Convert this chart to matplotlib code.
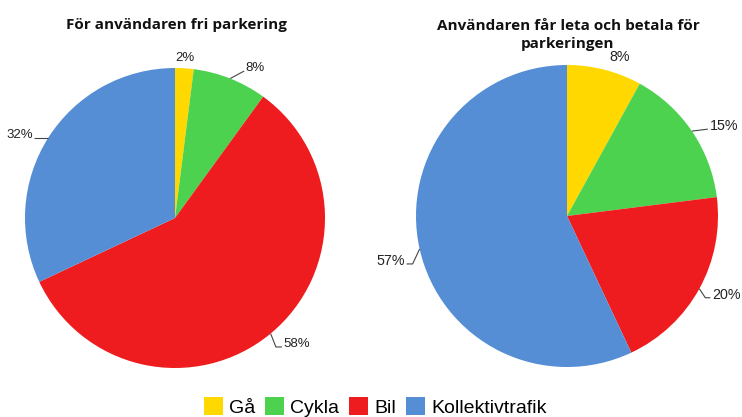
import numpy as np
import matplotlib
matplotlib.use("Agg")
import matplotlib.pyplot as plt
from matplotlib.patches import Patch

categories = ["Gå", "Cykla", "Bil", "Kollektivtrafik"]
colors = ["#FFD800", "#4CD24F", "#EE1C1E", "#558ED5"]
titles = ["För användaren fri parkering", "Användaren får leta och betala för\nparkeringen"]
values_left = [2, 8, 58, 32]
values_right = [8, 15, 20, 57]

W, H = 742, 417
fig = plt.figure(figsize=(W / 100, H / 100), dpi=100)


def make_pie(cx, cy, r, values, elbows, tails, fsize):
    """elbows: per-wedge leader offset from wedge edge (px, y down); None entry
    in tails means no leader line (elbow is then the text offset)."""
    ax = fig.add_axes([(cx - r) / W, (H - cy - r) / H, 2 * r / W, 2 * r / H])
    ax.pie(values, colors=colors, startangle=90, counterclock=False, radius=1.0,
           wedgeprops=dict(linewidth=0))
    ax.set_xlim(-1, 1)
    ax.set_ylim(-1, 1)
    ax.set_aspect("equal")
    ax.axis("off")
    font = dict(family="Liberation Sans", fontsize=fsize, color="#222222")
    total = float(sum(values))
    cum = 0.0
    for i, v in enumerate(values):
        mid = 90 - (cum + v / 2) / total * 360
        cum += v
        th = np.deg2rad(mid)
        ux, uy = np.cos(th), np.sin(th)
        txt = f"{v}%"
        dx, dy = elbows[i][0] / r, -elbows[i][1] / r
        if tails[i] is None:
            ax.text(ux + dx, uy + dy, txt, ha="center", va="center",
                    clip_on=False, **font)
            continue
        ex, ey = ux + dx, uy + dy
        side = 1 if ux >= 0 else -1
        tx = ex + side * tails[i] / r
        ax.plot([ux, ex, tx], [uy, ey, ey], color="#444444", lw=0.8,
                clip_on=False, solid_capstyle="butt")
        ax.text(tx + side * 1.5 / r, ey + 3 / r, txt,
                ha="left" if side > 0 else "right", va="center",
                clip_on=False, **font)
    return ax


make_pie(175, 218, 150, values_left,
         [(0.5, -10.3), (14, -7.5), (5.3, 13.4), (0, 0)],
         [None, 0, 6, 14], 9.5)
make_pie(567, 216, 151, values_right,
         [(15.5, -12.7), (16, -2), (6, 9), (-7, 15)],
         [None, 0, 5, 6], 10.3)

title_font = dict(family="Open Sans", fontweight="bold", fontsize=11, color="#111111")
fig.text(176 / W, 1 - 25 / H, titles[0], ha="center", va="center", **title_font)
fig.text(568 / W, 1 - 35 / H, titles[1], ha="center", va="center",
         linespacing=1.35, **title_font)

handles = [Patch(facecolor=c, edgecolor="none") for c in colors]
fig.legend(handles, categories, loc="center", bbox_to_anchor=(375 / W, 1 - 407 / H),
           ncol=4, frameon=False, handlelength=1.0, handleheight=1.0,
           handletextpad=0.3, columnspacing=0.5, borderpad=0.1,
           prop=dict(family="Liberation Sans", size=14))

fig.savefig("out.png", dpi=100, facecolor="white")
